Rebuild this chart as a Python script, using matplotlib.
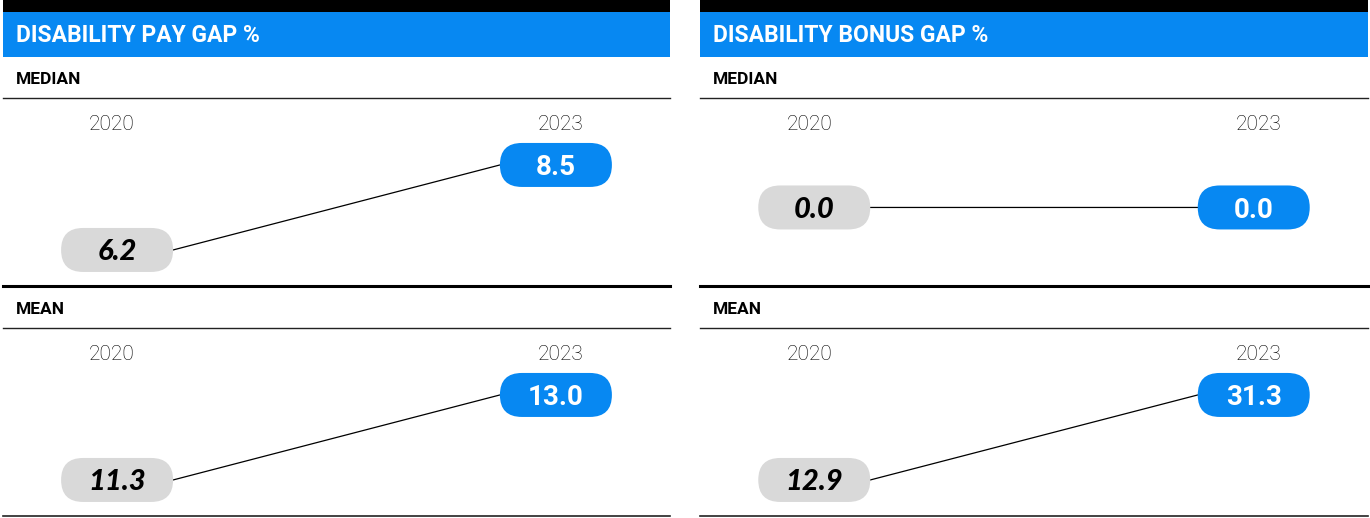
import matplotlib
matplotlib.use('Agg')
import matplotlib.pyplot as plt
from matplotlib.patches import Rectangle, FancyBboxPatch, ConnectionPatch
from matplotlib.lines import Line2D
from matplotlib import transforms

# данные
panel_titles = ['DISABILITY PAY GAP %', 'DISABILITY BONUS GAP %']
row_labels = ['MEDIAN', 'MEAN']
years = ['2020', '2023']
pay_median = [6.2, 8.5]
pay_mean = [11.3, 13.0]
bonus_median = [0.0, 0.0]
bonus_mean = [12.9, 31.3]

BLUE = '#0788F2'
GREY = '#D9D9D9'
HEAD_FONT = 'Roboto'
W, H = 1370, 518

fig = plt.figure(figsize=(W / 100, H / 100), dpi=100)


def fx(px):
    return px / W


def fy(py):
    return 1 - py / H


def hline(x0, x1, y, lw, color='black'):
    fig.add_artist(Line2D([fx(x0), fx(x1)], [fy(y), fy(y)], lw=lw, color=color,
                          transform=fig.transFigure))


def slope(ax, vals):
    lo, hi = min(vals), max(vals)
    span = (hi - lo) / 0.462 if hi > lo else 1.0
    mid = (lo + hi) / 2
    ax.set_ylim(mid - 0.416 * span, mid + 0.584 * span)
    ax.set_xlim(-0.26, 1.26)
    ax.axis('off')

    # пилюли со значениями
    for i, v in enumerate(vals):
        t = fig.dpi_scale_trans + transforms.ScaledTranslation(i, v, ax.transData)
        color = GREY if i == 0 else BLUE
        p = FancyBboxPatch((-0.56, -0.22), 1.12, 0.44,
                           boxstyle='round,pad=0,rounding_size=0.22',
                           fc=color, ec='none', transform=t, clip_on=False, zorder=3)
        ax.add_patch(p)
        if i == 0:
            ax.text(i, v, f'{v:.1f}', ha='center', va='center_baseline', fontsize=21,
                    family='Lato', weight='black', style='italic', color='black', zorder=4)
        else:
            ax.text(i, v, f'{v:.1f}', ha='center', va='center_baseline', fontsize=20,
                    family='Roboto', weight='bold', color='white', zorder=4)

    # линия между краями пилюль
    ta = transforms.offset_copy(ax.transData, fig=fig, x=0.56, y=0, units='inches')
    tb = transforms.offset_copy(ax.transData, fig=fig, x=-0.56, y=0, units='inches')
    con = ConnectionPatch(xyA=(0, vals[0]), coordsA=ta, xyB=(1, vals[1]), coordsB=tb,
                          color='black', lw=0.9, zorder=2)
    ax.add_artist(con)

    # подписи годов
    tr = transforms.blended_transform_factory(ax.transData, ax.transAxes)
    for i, yr in enumerate(years):
        shift = transforms.offset_copy(tr, fig=fig, x=(-0.05 if i == 0 else 0.045),
                                       y=-0.02, units='inches')
        ax.text(i, 0.88, yr, transform=shift, ha='center', va='center', fontsize=15,
                family='Roboto', weight='light', color='black')


panels = [(3, 670, panel_titles[0], [pay_median, pay_mean]),
          (700, 1368, panel_titles[1], [bonus_median, bonus_mean])]

for x0, x1, title, rows in panels:
    fig.add_artist(Rectangle((fx(x0), fy(12)), fx(x1) - fx(x0), 12 / H,
                             fc='black', ec='none', transform=fig.transFigure))
    fig.add_artist(Rectangle((fx(x0), fy(57)), fx(x1) - fx(x0), 45 / H,
                             fc=BLUE, ec='none', transform=fig.transFigure))
    fig.text(fx(x0 + 13), fy(35), title, color='white', fontsize=16.5, weight='bold',
             family=HEAD_FONT, va='center', ha='left')

    for j, (label, vals) in enumerate(zip(row_labels, rows)):
        top = 57 + j * 230
        fig.text(fx(x0 + 13), fy(top + 22), label, color='black', fontsize=12.5,
                 weight='bold', family=HEAD_FONT, va='center', ha='left')
        hline(x0, x1, top + 41, 1.0, '#222222')
        ax = fig.add_axes([fx(x0), fy(top + 227), fx(x1) - fx(x0), 184 / H])
        slope(ax, vals)
    hline(x0, x1, 286, 2.2)
    hline(x0, x1, 516, 1.2, '#222222')

fig.savefig('out.png', dpi=100)
